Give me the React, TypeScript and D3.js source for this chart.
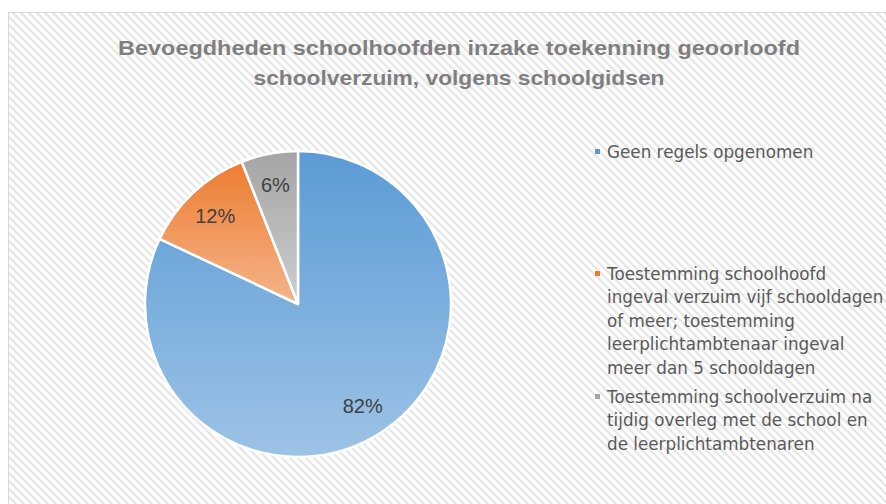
import React from "react";
import * as d3 from "d3";

const categories: string[][] = [
  ["Geen regels opgenomen"],
  [
    "Toestemming schoolhoofd",
    "ingeval verzuim vijf schooldagen",
    "of meer; toestemming",
    "leerplichtambtenaar ingeval",
    "meer dan 5 schooldagen",
  ],
  [
    "Toestemming schoolverzuim na",
    "tijdig overleg met de school en",
    "de leerplichtambtenaren",
  ],
];
const values: number[] = [82, 12, 6];
const valueLabels: string[] = ["82%", "12%", "6%"];
const titleLines: string[] = [
  "Bevoegdheden schoolhoofden inzake toekenning geoorloofd",
  "schoolverzuim, volgens schoolgidsen",
];

const gradTop = ["#5B9BD5", "#ED7D31", "#A5A5A5"];
const gradBottom = ["#9DC3E6", "#F5B48A", "#CDCDCD"];
const markerColors = ["#5B9BD5", "#ED7D31", "#A5A5A5"];

const W = 886;
const H = 504;
const cx = 298;
const cy = 304;
const R = 153;
const legendX = 595;
const legendStarts = [152, 274, 397];
const lineH = 23.4;

export default function App() {
  const pie = d3
    .pie<number>()
    .sort(null)
    .value((d) => d)
    .startAngle(0)
    .endAngle(Math.PI * 2);
  const arcs = pie(values);
  const arc = d3.arc<d3.PieArcDatum<number>>().innerRadius(0).outerRadius(R);
  const labelArc = d3
    .arc<d3.PieArcDatum<number>>()
    .innerRadius(R * 0.79)
    .outerRadius(R * 0.79);

  return (
    <svg
      width={W}
      height={H}
      style={{ position: "absolute", left: 0, top: 0 }}
    >
      <defs>
        <pattern
          id="bgpat"
          patternUnits="userSpaceOnUse"
          width={8}
          height={8}
        >
          <rect width={8} height={8} fill="#ffffff" />
          <path
            d="M-2,-2 L10,10 M-2,6 L2,10 M6,-2 L10,2"
            stroke="#e6e6e6"
            strokeWidth={2.2}
          />
        </pattern>
        {values.map((_, i) => (
          <linearGradient key={i} id={`g${i}`} x1="0" y1="0" x2="0" y2="1">
            <stop offset="0" stopColor={gradTop[i]} />
            <stop offset="1" stopColor={gradBottom[i]} />
          </linearGradient>
        ))}
      </defs>
      <rect x={0} y={0} width={W} height={H} fill="#ffffff" />
      <rect
        x={8.5}
        y={12.5}
        width={W + 20}
        height={H + 20}
        fill="url(#bgpat)"
        stroke="#d9d9d9"
        strokeWidth={1}
      />
      {titleLines.map((t, i) => (
        <text
          key={i}
          x={459}
          y={47 + i * 30}
          textAnchor="middle"
          dominantBaseline="central"
          fontFamily="'Liberation Sans', Arial, sans-serif"
          fontWeight="bold"
          fontSize={21}
          fill="#7f7f7f"
          textLength={i === 0 ? 682 : 411}
          lengthAdjust="spacingAndGlyphs"
        >
          {t}
        </text>
      ))}
      <g transform={`translate(${cx},${cy})`}>
        {arcs.map((a, i) => (
          <path
            key={i}
            d={arc(a) || ""}
            fill={`url(#g${i})`}
            stroke="#ffffff"
            strokeWidth={2.5}
            strokeLinejoin="round"
          />
        ))}
        {arcs.map((a, i) => {
          const [lx, ly] = labelArc.centroid(a);
          return (
            <text
              key={i}
              x={lx}
              y={ly}
              textAnchor="middle"
              dominantBaseline="central"
              fontFamily="'Liberation Sans', Arial, sans-serif"
              fontSize={20}
              fill="#404040"
            >
              {valueLabels[i]}
            </text>
          );
        })}
      </g>
      {categories.map((lines, i) => (
        <g key={i}>
          <rect
            x={legendX}
            y={legendStarts[i] - 3}
            width={5}
            height={5}
            fill={markerColors[i]}
          />
          {lines.map((l, j) => (
            <text
              key={j}
              x={legendX + 12}
              y={legendStarts[i] + j * lineH}
              dominantBaseline="central"
              fontFamily="'DejaVu Sans', sans-serif"
              fontSize={16.8}
              fill="#595959"
            >
              {l}
            </text>
          ))}
        </g>
      ))}
    </svg>
  );
}
